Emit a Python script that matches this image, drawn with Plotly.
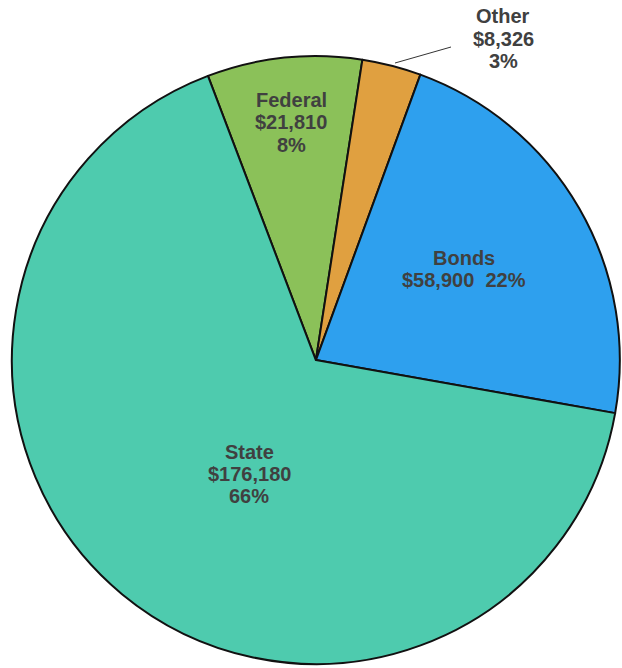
import plotly.graph_objects as go

labels = ["Federal", "Other", "Bonds", "State"]
values = [21810, 8326, 58900, 176180]
colors = ["#8BC159", "#E0A040", "#2EA0EE", "#4ECBAE"]

W, H = 622, 668
total = sum(values)
pcts = [round(v / total * 100) for v in values]

fig = go.Figure(go.Pie(
    labels=labels, values=values, sort=False, direction="clockwise",
    rotation=-20.8,
    marker=dict(colors=colors, line=dict(color="#111111", width=2)),
    textinfo="none",
    domain=dict(x=[0.0177, 0.998], y=[0.006, 0.916]),
    showlegend=False, hoverinfo="label+value+percent",
))

# label placement (pixel centres of each text block, first-line y and line pitch)
placement = {
    "Federal": (291, 100, 22.3, False),
    "Other": (503, 16, 22.7, False),
    "Bonds": (464, 258, 22.0, True),
    "State": (249, 452, 22.0, False),
}
font = dict(family="Liberation Sans, Arial, sans-serif", size=20, color="#404040")
for l, v, p in zip(labels, values, pcts):
    cx, cy, pitch, two_line = placement[l]
    lines = [l, f"${v:,}\u00a0\u00a0{p}%"] if two_line else [l, f"${v:,}", f"{p}%"]
    for i, t in enumerate(lines):
        fig.add_annotation(
            x=cx / W, y=1 - (cy + i * pitch) / H, xref="paper", yref="paper",
            text=f"<b>{t}</b>", showarrow=False, font=font,
            xanchor="center", yanchor="middle",
        )

# leader line for the small slice
fig.add_shape(type="line", xref="paper", yref="paper",
              x0=395 / W, y0=1 - 63 / H, x1=451 / W, y1=1 - 47 / H,
              line=dict(color="#333333", width=1))

fig.update_layout(
    width=W, height=H, margin=dict(l=0, r=0, t=0, b=0),
    paper_bgcolor="white", plot_bgcolor="white",
)
fig.write_html("out.html")
